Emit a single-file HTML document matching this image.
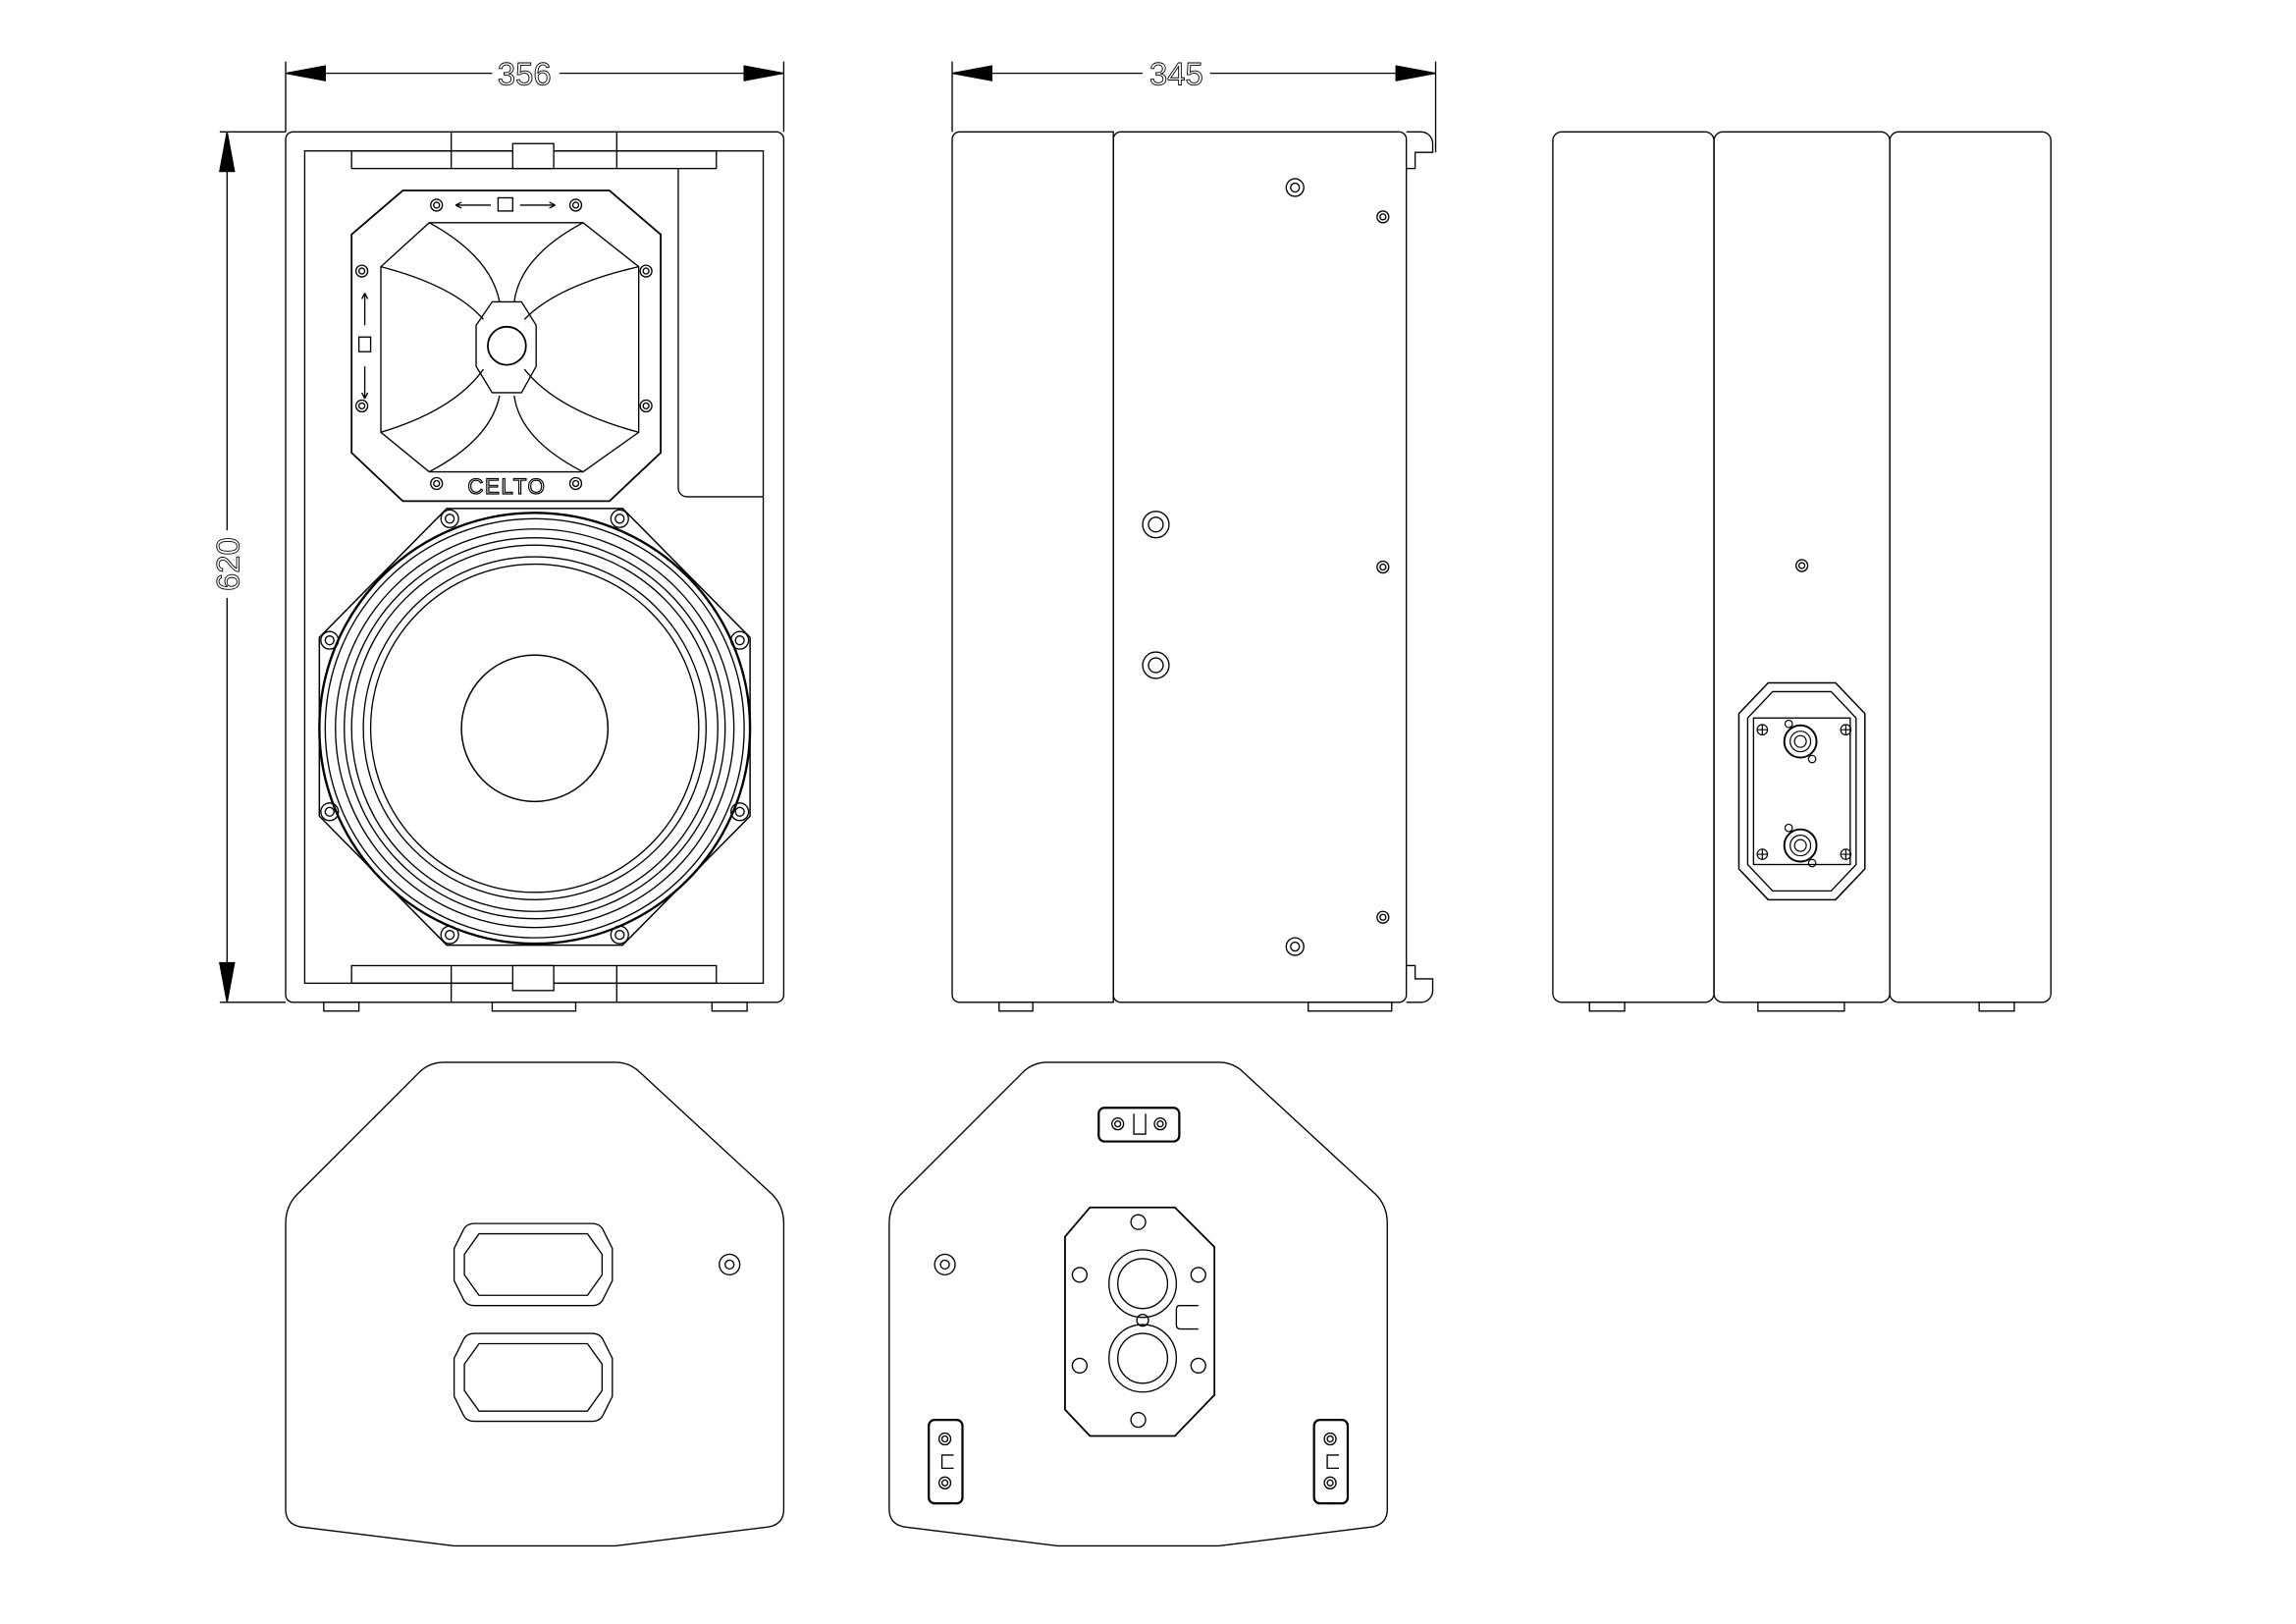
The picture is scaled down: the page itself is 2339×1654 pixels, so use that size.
<!DOCTYPE html>
<html><head><meta charset="utf-8"><style>
html,body{margin:0;padding:0;background:#fff;}
svg{display:block;}
text{font-family:"Liberation Sans",sans-serif;}
</style></head><body>
<svg width="2339" height="1654" viewBox="0 0 1567.3 1108.3" xmlns="http://www.w3.org/2000/svg" fill="none" stroke="#000" stroke-width="0.9">
<defs>
<g id="scr"><circle r="6"/><circle r="3"/></g>
<g id="scs"><circle r="4"/><circle r="2"/></g>
</defs>
<rect width="1570" height="1110" fill="#fff" stroke="none"/>

<!-- ===== FRONT VIEW ===== -->
<line x1="195" y1="42" x2="195" y2="90"/><line x1="535" y1="42" x2="535" y2="90"/>
<line x1="195" y1="50" x2="535" y2="50"/>
<polygon points="195,50 222,45 222,55" fill="#000"/><polygon points="535,50 508,45 508,55" fill="#000"/>
<rect x="336" y="40" width="46" height="20" fill="#fff" stroke="none"/>
<text x="358" y="58" font-size="22" text-anchor="middle" fill="none" stroke="#000" stroke-width="0.6">356</text>
<line x1="150" y1="90" x2="195" y2="90"/><line x1="150" y1="684" x2="195" y2="684"/>
<line x1="155" y1="90" x2="155" y2="684"/>
<polygon points="155,90 150,117 160,117" fill="#000"/><polygon points="155,684 150,657 160,657" fill="#000"/>
<rect x="144" y="362" width="22" height="46" fill="#fff" stroke="none"/>
<text transform="translate(163,385) rotate(-90)" font-size="22" text-anchor="middle" stroke="#000" stroke-width="0.6">620</text>

<rect x="195" y="90" width="340" height="594" rx="5"/>
<rect x="208" y="103" width="313" height="568"/>
<rect x="240" y="103" width="249" height="12"/>
<line x1="308" y1="90" x2="308" y2="115"/><line x1="421" y1="90" x2="421" y2="115"/>
<rect x="350" y="98" width="28" height="17" fill="#fff"/>
<rect x="240" y="659" width="249" height="12"/>
<line x1="308" y1="659" x2="308" y2="684"/><line x1="421" y1="659" x2="421" y2="684"/>
<rect x="350" y="659" width="28" height="17" fill="#fff"/>
<rect x="221" y="684" width="24" height="6"/><rect x="336" y="684" width="57" height="6"/><rect x="486" y="684" width="24" height="6"/>
<path d="M463,115 V333 a6,6 0 0 0 6,6 H521"/>

<!-- horn -->
<polygon points="275,130 416,130 451,160 451,309 416,342 275,342 240,309 240,160" stroke-width="1.2"/>
<polygon points="293,152 398,152 436,182 436,295 398,322 293,322 260,295 260,182"/>
<path d="M260,182 Q310,195 330,218"/><path d="M436,182 Q380,195 358,218"/>
<path d="M260,295 Q310,280 330,252"/><path d="M436,295 Q380,280 358,252"/>
<path d="M293,322 Q335,300 341,270"/><path d="M398,322 Q355,300 351,270"/>
<path d="M293,152 Q335,175 341,206"/><path d="M398,152 Q355,175 351,206"/>
<polygon points="336,206 356,206 366,222 366,250 356,268 336,268 325,250 325,222"/>
<circle cx="346" cy="236" r="13" stroke-width="1.2"/>
<use href="#scs" x="298" y="140"/><use href="#scs" x="393" y="140"/>
<use href="#scs" x="298" y="330"/><use href="#scs" x="393" y="330"/>
<use href="#scs" x="247" y="185"/><use href="#scs" x="441" y="185"/>
<use href="#scs" x="247" y="277"/><use href="#scs" x="441" y="277"/>
<path d="M311,140 h24 M311,140 l4,-2 M311,140 l4,2 M355,140 h24 M379,140 l-4,-2 M379,140 l-4,2"/>
<rect x="340" y="135" width="10" height="9"/>
<path d="M249,200 v22 M249,200 l-2,4 M249,200 l2,4 M249,250 v22 M249,272 l-2,-4 M249,272 l2,-4"/>
<rect x="245" y="230" width="8" height="10"/>
<text x="346" y="337" font-size="15" text-anchor="middle" stroke="#000" stroke-width="0.8" fill="#fff" letter-spacing="1">CELTO</text>

<!-- woofer -->
<polygon points="305,347 425,347 512,435 512,557 425,645 305,645 218,557 218,435" stroke-width="1"/>
<circle cx="365" cy="497" r="147" stroke-width="1.6"/>
<circle cx="365" cy="497" r="143"/>
<circle cx="365" cy="497" r="136"/>
<circle cx="365" cy="497" r="130"/>
<circle cx="365" cy="497" r="125"/>
<circle cx="365" cy="497" r="117"/>
<circle cx="365" cy="497" r="112"/>
<circle cx="365" cy="497" r="50" stroke-width="1"/>
<use href="#scr" x="307" y="354"/><use href="#scr" x="423" y="354"/>
<use href="#scr" x="307" y="638"/><use href="#scr" x="423" y="638"/>
<use href="#scr" x="225" y="437"/><use href="#scr" x="505" y="437"/>
<use href="#scr" x="225" y="554"/><use href="#scr" x="505" y="554"/>

<!-- ===== SIDE VIEW ===== -->
<line x1="650" y1="42" x2="650" y2="90"/><line x1="980" y1="42" x2="980" y2="104"/>
<line x1="650" y1="50" x2="980" y2="50"/>
<polygon points="650,50 677,45 677,55" fill="#000"/><polygon points="980,50 953,45 953,55" fill="#000"/>
<rect x="780" y="40" width="46" height="20" fill="#fff" stroke="none"/>
<text x="803" y="58" font-size="22" text-anchor="middle" stroke="#000" stroke-width="0.6">345</text>
<path d="M655,90 H760 V684 H655 a5,5 0 0 1 -5,-5 V95 a5,5 0 0 1 5,-5 Z"/>
<path d="M765,90 H955 a5,5 0 0 1 5,5 V679 a5,5 0 0 1 -5,5 H765 a5,5 0 0 1 -5,-5 V95 a5,5 0 0 1 5,-5 Z"/>
<path d="M960,90 H970 a8,8 0 0 1 8,8 V104 H966 V115 H960 M960,659 H966 V668 H978 V676 a8,8 0 0 1 -8,8 H960"/>
<rect x="682" y="684" width="23" height="6"/><rect x="893" y="684" width="57" height="6"/>
<use href="#scr" x="884" y="128"/><use href="#scr" x="884" y="646"/>
<use href="#scs" x="944" y="148"/><use href="#scs" x="944" y="387"/><use href="#scs" x="944" y="626"/>
<circle cx="789" cy="358" r="9"/><circle cx="789" cy="358" r="5"/>
<circle cx="789" cy="454" r="9"/><circle cx="789" cy="454" r="5"/>

<!-- ===== BACK VIEW ===== -->
<rect x="1060" y="90" width="110" height="594" rx="6"/>
<rect x="1170" y="90" width="120" height="594" rx="6"/>
<rect x="1290" y="90" width="110" height="594" rx="6"/>
<rect x="1085" y="684" width="24" height="6"/><rect x="1200" y="684" width="59" height="6"/><rect x="1351" y="684" width="24" height="6"/>
<use href="#scs" x="1230" y="386"/>
<polygon points="1207,466 1253,466 1273,487 1273,593 1253,614 1207,614 1187,593 1187,487" stroke-width="1"/>
<polygon points="1210,472 1250,472 1267,490 1267,590 1250,608 1210,608 1193,590 1193,490"/>
<rect x="1197" y="490" width="66" height="100"/>
<g stroke-width="0.8">
<circle cx="1229" cy="506" r="11" stroke-width="1.3"/><circle cx="1229" cy="506" r="7"/><circle cx="1229" cy="506" r="4"/>
<circle cx="1229" cy="577" r="11" stroke-width="1.3"/><circle cx="1229" cy="577" r="7"/><circle cx="1229" cy="577" r="4"/>
<circle cx="1221" cy="494" r="2.5"/><circle cx="1237" cy="518" r="2.5"/>
<circle cx="1221" cy="565" r="2.5"/><circle cx="1237" cy="589" r="2.5"/>
<circle cx="1203" cy="498" r="3.5"/><circle cx="1260" cy="498" r="3.5"/><circle cx="1203" cy="583" r="3.5"/><circle cx="1260" cy="583" r="3.5"/>
<path d="M1199.5,498h7M1203,494.5v7M1256.5,498h7M1260,494.5v7M1199.5,583h7M1203,579.5v7M1256.5,583h7M1260,579.5v7"/>
</g>

<!-- ===== BOTTOM VIEW 1 ===== -->
<path d="M303,725 H420 Q430,725 437,732 L527,815 Q535,823 535,835 V1030 Q535,1040 525,1042 L420,1055 H310 L205,1042 Q195,1040 195,1030 V835 Q195,823 203,815 L286,732 Q293,725 303,725 Z"/>
<path d="M324,835 H404 Q410,835 412,840 L418,852 V874 L412,886 Q410,891 404,891 H324 Q318,891 316,886 L310,874 V852 L316,840 Q318,835 324,835 Z"/>
<path d="M327,842 H401 L411,856 V870 L401,884 H327 L317,870 V856 Z"/>
<path d="M324,910 H404 Q410,910 412,915 L418,927 V953 L412,965 Q410,970 404,970 H324 Q318,970 316,965 L310,953 V927 L316,915 Q318,910 324,910 Z"/>
<path d="M327,917 H401 L411,931 V949 L401,963 H327 L317,949 V931 Z"/>
<circle cx="498" cy="863" r="7"/><circle cx="498" cy="863" r="3"/>

<!-- ===== BOTTOM VIEW 2 ===== -->
<path d="M715,725 H832 Q842,725 849,732 L939,815 Q947,823 947,835 V1030 Q947,1040 937,1042 L832,1055 H722 L617,1042 Q607,1040 607,1030 V835 Q607,823 615,815 L698,732 Q705,725 715,725 Z"/>
<rect x="750" y="756" width="55" height="23" rx="4" stroke-width="1.5"/>
<use href="#scs" x="763" y="767"/><use href="#scs" x="792" y="767"/>
<path d="M774,760 V774 H782 V760"/>
<polygon points="744,824 802,824 829,851 829,952 802,980 744,980 727,962 727,844" stroke-width="1.2"/>
<circle cx="780" cy="876" r="23"/><circle cx="780" cy="876" r="17"/>
<circle cx="780" cy="927" r="23"/><circle cx="780" cy="927" r="17"/>
<circle cx="780" cy="901" r="4"/>
<path d="M805,891 H818 M805,891 Q803,891 803,894 V904 Q803,907 806,907 H818"/>
<circle cx="777" cy="834" r="5"/><circle cx="777" cy="969" r="5"/>
<circle cx="737" cy="870" r="5"/><circle cx="737" cy="932" r="5"/>
<circle cx="818" cy="870" r="5"/><circle cx="818" cy="932" r="5"/>
<circle cx="645" cy="863" r="7"/><circle cx="645" cy="863" r="3"/>
<rect x="634" y="969" width="23" height="57" rx="4" stroke-width="1.5"/>
<use href="#scs" x="645" y="982"/><use href="#scs" x="645" y="1012"/>
<path d="M651,993 H643 V1002 H651"/>
<rect x="897" y="969" width="23" height="57" rx="4" stroke-width="1.5"/>
<use href="#scs" x="908" y="982"/><use href="#scs" x="908" y="1012"/>
<path d="M914,993 H906 V1002 H914"/>
</svg>
</body></html>
